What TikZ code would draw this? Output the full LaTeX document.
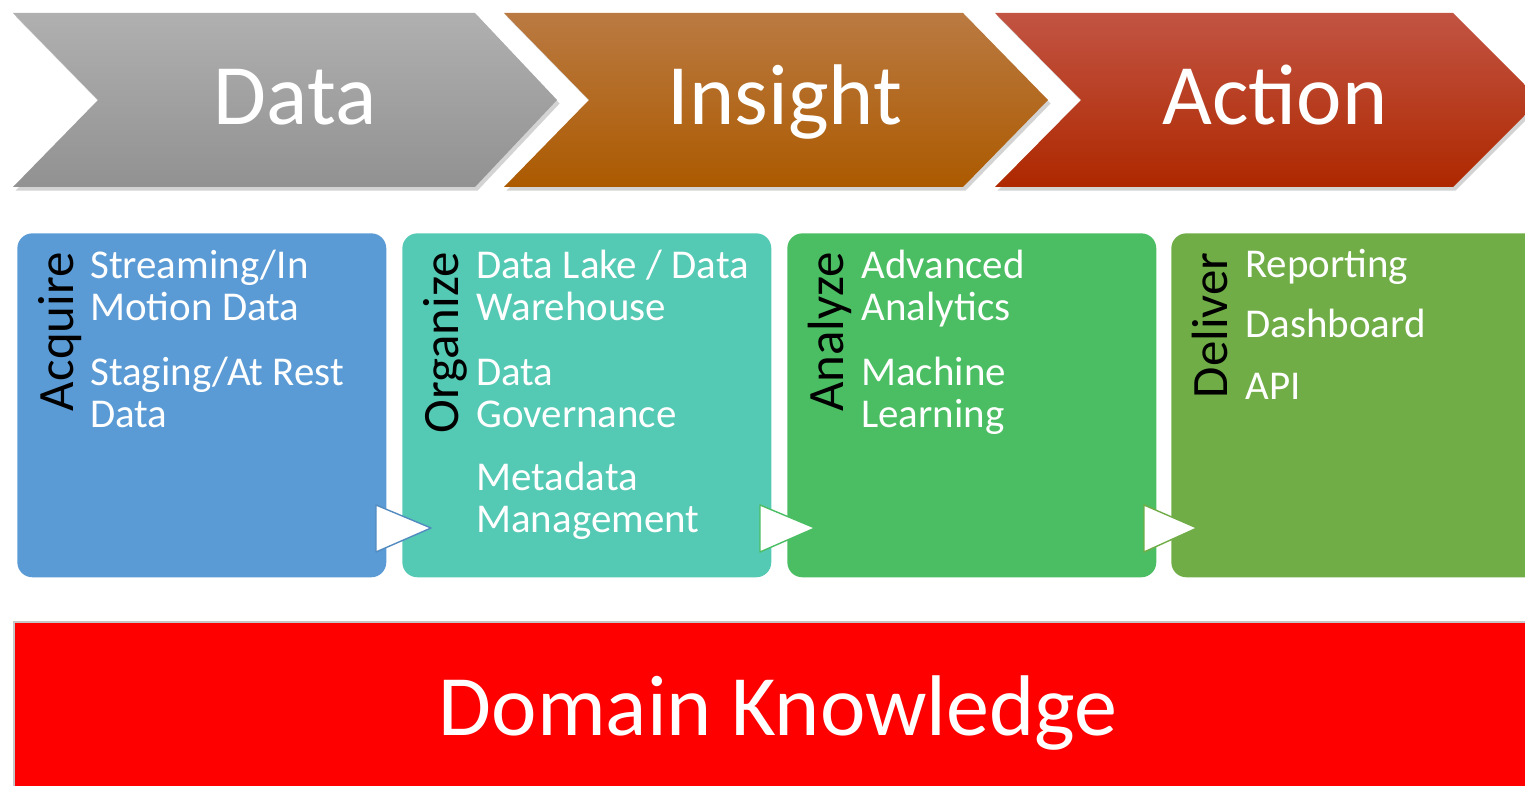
\documentclass[tikz,border=0pt]{standalone}
\usepackage{fontspec}
\setmainfont{Carlito}
\usetikzlibrary{shadows}

\definecolor{acqblue}{HTML}{5B9BD5}
\definecolor{orgteal}{HTML}{54C9B4}
\definecolor{anagreen}{HTML}{4BBE63}
\definecolor{delgreen}{HTML}{70AD47}
\definecolor{domred}{HTML}{FE0000}

\tikzset{
  stage/.style={drop shadow={shadow xshift=1.5pt, shadow yshift=-2pt, opacity=.35}},
  title/.style={text=white, anchor=base, inner sep=0pt, font=\fontsize{49}{58}\selectfont},
  box/.style={rounded corners=0.3cm, anchor=north west, inner sep=0pt,
    minimum width=7.38cm, minimum height=6.88cm},
  verb/.style={rotate=90, anchor=base east, inner sep=0pt, font=\fontsize{29}{34}\selectfont},
  item/.style={text=white, anchor=base west, inner sep=0pt, align=left,
    font=\fontsize{23.3}{24.4}\selectfont},
  pointer/.style={fill=white, line width=0.8pt, line join=round},
}

\begin{document}
\begin{tikzpicture}[x=0.02cm, y=-0.02cm]
    \clip (0,0) rectangle (1525,786);

    % chevrons
    \shade[stage, top color=black!31, bottom color=black!43]
      (13,13) -- (475,13) -- (557,100) -- (475,187) -- (13,187) -- (98,100) -- cycle;
    \shade[stage, top color={rgb,255:red,186;green,122;blue,66},
      middle color={rgb,255:red,179;green,98;blue,0},
      bottom color={rgb,255:red,172;green,90;blue,0}]
      (504,13) -- (963,13) -- (1048,100) -- (963,187) -- (504,187) -- (589,100) -- cycle;
    \shade[stage, top color={rgb,255:red,194;green,84;blue,67},
      middle color={rgb,255:red,185;green,50;blue,0},
      bottom color={rgb,255:red,174;green,40;blue,0}]
      (995,13) -- (1453,13) -- (1540,100) -- (1453,187) -- (995,187) -- (1081,100) -- cycle;
    \node[title] (data) at (295,125) {Data};
    \node[title] (insight) at (785,125) {Insight};
    \node[title] (action) at (1275,125) {Action};

    % boxes
    \node[box, fill=acqblue] (acquire) at (17,233) {};
    \node[box, fill=orgteal] (organize) at (402,233) {};
    \node[box, fill=anagreen] (analyze) at (787,233) {};
    \node[box, fill=delgreen] (deliver) at (1171,233) {};

    \node[verb] (acqlabel) at (73,252) {Acquire};
    \node[verb] (orglabel) at (458,252) {Organize};
    \node[verb] (analabel) at (843,252) {Analyze};
    \node[verb] (dellabel) at (1227,252) {Deliver};

    % anchored on the last line
    \node[item] (stream) at (90,321) {Streaming/In\\Motion Data};
    \node[item] (staging) at (90,428) {Staging/At Rest\\Data};
    \node[item] (lake) at (476,321) {Data Lake / Data\\Warehouse};
    \node[item] (gov) at (476,428) {Data\\Governance};
    \node[item] (meta) at (476,533) {Metadata\\Management};
    \node[item] (advanced) at (861,321) {Advanced\\Analytics};
    \node[item] (ml) at (861,428) {Machine\\Learning};
    \node[item] (report) at (1245,278) {Reporting};
    \node[item] (dash) at (1245,338) {Dashboard};
    \node[item] (api) at (1245,400) {API};

    % pointers between boxes
    \filldraw[pointer, draw=acqblue!90!black] (376,505) -- (431,528) -- (376,552) -- cycle;
    \filldraw[pointer, draw=anagreen] (760,505) -- (815,528) -- (760,552) -- cycle;
    \filldraw[pointer, draw=delgreen] (1144,505) -- (1197,528) -- (1144,552) -- cycle;

    % domain bar
    \node[fill=domred, anchor=north west, inner sep=0pt, minimum width=30.6cm, minimum height=3.6cm,
      drop shadow={shadow xshift=-1.2pt, shadow yshift=1.2pt, opacity=.45}] (domain) at (15,623) {};
    \node[title] (domtext) at (778,736) {Domain Knowledge};
\end{tikzpicture}
\end{document}
